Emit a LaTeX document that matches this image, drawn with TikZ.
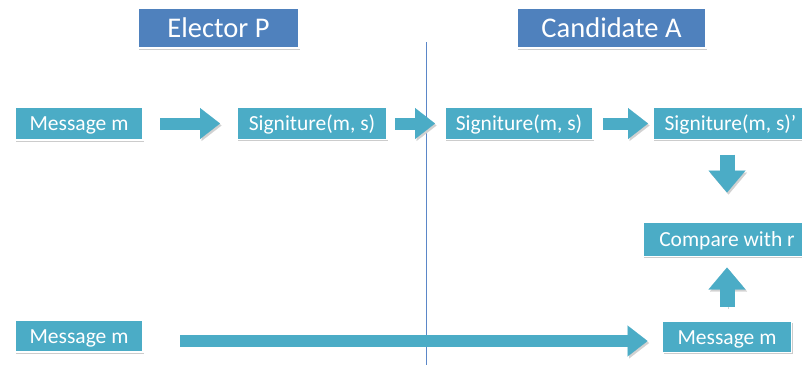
\documentclass[tikz,border=0pt]{standalone}
\usepackage{fontspec}
\setmainfont{Carlito}
\usepackage{xcolor}
\definecolor{cyanbox}{HTML}{4BACC6}
\definecolor{bluehead}{HTML}{4F81BD}
\definecolor{divider}{HTML}{5B87C8}
\usepackage{tikz}
\usetikzlibrary{positioning,arrows.meta,shadows}

\begin{document}
\begin{tikzpicture}[x=1pt, y=1pt,
  msgbox/.style={fill=cyanbox, draw=white, line width=1.5pt, outer sep=0pt, text=white, inner sep=0pt,
    font=\fontsize{21.5}{24}\selectfont, text height=19pt, text depth=4.5pt,
    drop shadow={shadow xshift=1pt, shadow yshift=-1.5pt, fill=black!40, opacity=0.5}},
  headbox/.style={msgbox, fill=bluehead, minimum height=40pt, text height=18.4pt, text depth=0pt,
    font=\fontsize{28.5}{32}\selectfont},
  harr/.style={draw=cyanbox, line width=12pt,
    -{Triangle[length=20pt, width=31pt, line width=0.1pt, color=cyanbox, fill=cyanbox]},
    preaction={draw=black!18, transform canvas={shift={(1.5pt,-2pt)}},
      -{Triangle[length=20pt, width=31pt, line width=0.1pt, color=black!18, fill=black!18]}}},
  varr/.style={draw=cyanbox, line width=15pt,
    -{Triangle[length=22pt, width=37pt, line width=0.1pt, color=cyanbox, fill=cyanbox]},
    preaction={draw=black!18, transform canvas={shift={(1.5pt,-2pt)}},
      -{Triangle[length=22pt, width=37pt, line width=0.1pt, color=black!18, fill=black!18]}}}]
  \useasboundingbox (0,0) rectangle (802,-365);
  % headers
  \node[headbox, minimum width=161pt] (elector) at (218.5,-28) {Elector P};
  \node[headbox, minimum width=189pt] (cand) at (611.5,-28) {Candidate A};
  % divider between the two sides
  \draw[divider, line width=0.9pt] (426,-42) -- (426,-365);
  % first row
  \node[msgbox, minimum width=128pt, minimum height=33pt] (msg1) at (79,-123.5) {Message m};
  \node[msgbox, minimum width=150pt, minimum height=32pt, right=94pt of msg1] (sig1) {Signiture(m, s)};
  \node[msgbox, minimum width=148pt, minimum height=32pt, right=58pt of sig1] (sig2) {Signiture(m, s)};
  \node[msgbox, minimum width=155pt, minimum height=32pt, right=60pt of sig2] (sig3) {Signiture(m, s)’};
  % check on the candidate side
  \node[msgbox, minimum width=168pt, minimum height=34pt, below=83pt of sig3, xshift=-3.5pt] (cmp) {Compare with r};
  \node[msgbox, minimum width=129pt, minimum height=31pt, below=65pt of cmp] (msg3) {Message m};
  \node[msgbox, minimum width=128pt, minimum height=32pt, below=180pt of msg1] (msg2) {Message m};
  % arrows
  \draw[harr, shorten <=17pt, shorten >=17pt] (msg1) -- (sig1);
  \draw[harr, shorten <=8pt, shorten >=10pt] (sig1) -- (sig2);
  \draw[harr, shorten <=10pt, shorten >=5pt] (sig2) -- (sig3);
  \draw[varr, shorten <=15pt, shorten >=30pt] (sig3.south -| cmp.north) -- (cmp.north);
  \draw[varr, shorten <=15pt, shorten >=11pt] (msg3.north) -- (cmp.south);
  \draw[harr, shorten <=37pt, shorten >=15pt] ([yshift=-5pt]msg2.east) -- ([yshift=-5pt]msg2.east -| msg3.west);
\end{tikzpicture}
\end{document}
